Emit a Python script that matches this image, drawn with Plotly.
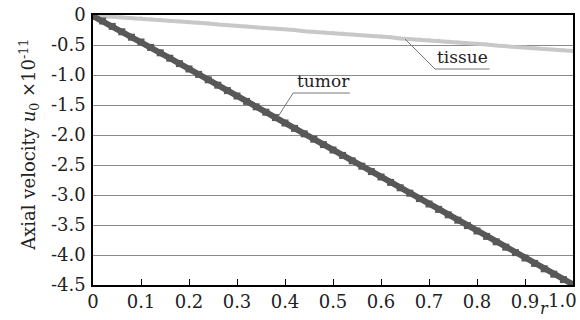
import plotly.graph_objects as go

r = [round(i * 0.02, 2) for i in range(51)]
tumor = [-0.02, -0.10, -0.19, -0.28, -0.37, -0.45, -0.54, -0.63, -0.72, -0.81,
         -0.90, -0.99, -1.08, -1.17, -1.26, -1.35, -1.44, -1.53, -1.62, -1.71,
         -1.80, -1.89, -1.98, -2.07, -2.16, -2.25, -2.34, -2.43, -2.52, -2.61,
         -2.70, -2.79, -2.88, -2.97, -3.06, -3.15, -3.24, -3.33, -3.42, -3.51,
         -3.60, -3.69, -3.78, -3.87, -3.96, -4.05, -4.14, -4.23, -4.32, -4.41,
         -4.49]
tissue = [-0.02, -0.02, -0.03, -0.04, -0.05, -0.06, -0.07, -0.08, -0.10, -0.11,
          -0.12, -0.13, -0.14, -0.16, -0.17, -0.18, -0.19, -0.21, -0.22, -0.23,
          -0.24, -0.25, -0.27, -0.28, -0.29, -0.30, -0.31, -0.33, -0.34, -0.35,
          -0.36, -0.37, -0.39, -0.40, -0.41, -0.42, -0.43, -0.45, -0.46, -0.47,
          -0.48, -0.49, -0.51, -0.52, -0.53, -0.54, -0.55, -0.57, -0.58, -0.59,
          -0.60]

x_ticks = [0, 0.1, 0.2, 0.3, 0.4, 0.5, 0.6, 0.7, 0.8, 0.9, 1.0]
x_ticktext = ["0", "0.1", "0.2", "0.3", "0.4", "0.5", "0.6", "0.7", "0.8", "0.9", ""]
last_x_label = "1.0"
y_ticks = [0, -0.5, -1.0, -1.5, -2.0, -2.5, -3.0, -3.5, -4.0, -4.5]
y_ticktext = ["0", "-0.5", "-1.0", "-1.5", "-2.0", "-2.5", "-3.0", "-3.5", "-4.0", "-4.5"]

# label anchors: text centre r, underline u, underline start/end r, curve point r/u
tumor_label = dict(text="tumor", tr=0.48, lu=-1.30, r0=0.417, r1=0.535, cr=0.385, cu=-1.70)
tissue_label = dict(text="tissue", tr=0.77, lu=-0.90, r0=0.7125, r1=0.826, cr=0.65, cu=-0.40)

FONT = "DejaVu Serif"
TXT = "#222222"

fig = go.Figure()
fig.add_trace(go.Scatter(x=r, y=tissue, mode="lines+markers",
                         line=dict(color="#c8c8c8", width=4),
                         marker=dict(symbol="triangle-up", size=5, color="#c8c8c8"),
                         showlegend=False))
fig.add_trace(go.Scatter(x=r, y=tumor, mode="lines+markers",
                         line=dict(color="#585858", width=6),
                         marker=dict(symbol="square", size=7, color="#585858"),
                         showlegend=False))

shapes = []
annotations = []
for lab in (tumor_label, tissue_label):
    shapes.append(dict(type="line", xref="x", yref="y", x0=lab["r0"], x1=lab["r1"],
                       y0=lab["lu"], y1=lab["lu"], line=dict(color="#777", width=1)))
    shapes.append(dict(type="line", xref="x", yref="y", x0=lab["r0"], x1=lab["cr"],
                       y0=lab["lu"], y1=lab["cu"], line=dict(color="#777", width=1)))
    annotations.append(dict(x=lab["tr"], y=lab["lu"], xref="x", yref="y", text=lab["text"],
                            showarrow=False, yanchor="bottom",
                            font=dict(family=FONT, size=17, color=TXT)))

annotations.append(dict(x=-0.135, y=0.52, xref="paper", yref="paper", textangle=-90,
                        text="Axial velocity <i>u</i><sub>0</sub> ×10<sup>-11</sup>",
                        showarrow=False, xanchor="center", yanchor="middle",
                        font=dict(family=FONT, size=18, color=TXT)))
annotations.append(dict(x=0.94, y=-0.129, xref="paper", yref="paper", text="<i>r</i>",
                        showarrow=False, xanchor="center", yanchor="bottom",
                        font=dict(family=FONT, size=16, color=TXT)))
annotations.append(dict(x=1.0135, y=-0.01, xref="paper", yref="paper", text=last_x_label,
                        showarrow=False, xanchor="right", yanchor="top",
                        font=dict(family=FONT, size=18, color=TXT)))

fig.update_layout(
    width=580, height=320,
    margin=dict(l=93, r=7, t=15, b=35, autoexpand=False),
    plot_bgcolor="white", paper_bgcolor="white",
    font=dict(family=FONT, size=18, color=TXT),
    shapes=shapes, annotations=annotations,
    xaxis=dict(range=[0, 1], tickvals=x_ticks, ticktext=x_ticktext,
               showgrid=False, zeroline=False, showline=True, mirror=True,
               linecolor="black", linewidth=1.5, ticks="inside", ticklen=6,
               tickcolor="black", tickwidth=1.2, automargin=False),
    yaxis=dict(range=[-4.5, 0], tickvals=y_ticks, ticktext=y_ticktext,
               showgrid=True, gridcolor="#8a8a8a", gridwidth=1, zeroline=False,
               showline=True, mirror=True, linecolor="black", linewidth=1.5,
               ticks="", ticklabelstandoff=2, automargin=False,
               ticklabeloverflow="allow"),
)

fig.write_html("out.html", config={"displayModeBar": False},
               post_script="document.body.style.margin='0px';document.body.style.padding='0px';")
